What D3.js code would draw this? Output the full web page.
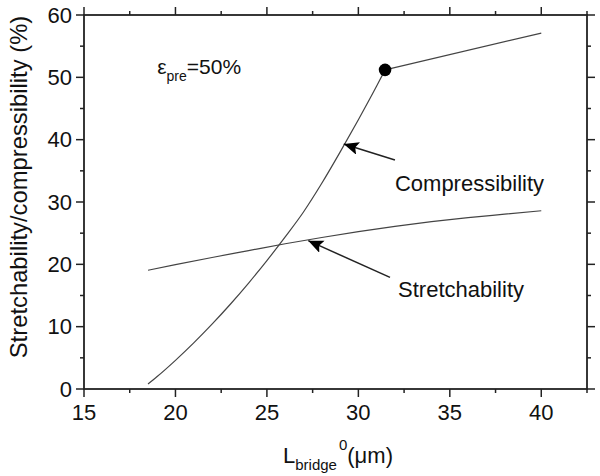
<!DOCTYPE html>
<html>
<head>
<meta charset="utf-8">
<script src="https://cdn.jsdelivr.net/npm/d3@7"></script>
<style>
  body { margin: 0; background: #fff; }
  svg { display: block; }
  text { font-family: "Liberation Sans", Arial, sans-serif; fill: #111; }
</style>
</head>
<body>
<svg id="chart" width="600" height="476"></svg>
<script>
// ---- data ----
const xMajorTicks = [15, 20, 25, 30, 35, 40];
const xMinorTicks = [17.5, 22.5, 27.5, 32.5, 37.5, 42.5];
const yMajorTicks = [0, 10, 20, 30, 40, 50, 60];
const yMinorTicks = [5, 15, 25, 35, 45, 55];

const stretchX = [18.5, 20, 22, 24, 26, 28, 30, 32, 34, 36, 38, 40];
const stretchY = [19.05, 19.95, 21.1, 22.2, 23.3, 24.3, 25.25, 26.1, 26.85, 27.5, 28.05, 28.6];

const compressX = [18.5, 19, 20, 21, 22, 23, 24, 25, 26, 27, 28, 29, 30, 31, 31.46];
const compressY = [0.8, 2.0, 4.6, 7.4, 10.4, 13.6, 17.0, 20.6, 24.4, 28.4, 33.0, 38.0, 43.2, 48.6, 51.2];

const plateauX = [31.46, 40];
const plateauY = [51.2, 57.1];

const kneePoint = { x: 31.46, y: 51.2 };

const arrowsData = [
  { label: "Compressibility", from: [32.0, 36.74], to: [29.2, 39.3], textAt: [32.0, 31.77] },
  { label: "Stretchability", from: [31.73, 17.9], to: [27.26, 23.8], textAt: [32.17, 14.76] }
];

// ---- layout ----
const svg = d3.select("#chart");
const mL = 84, mR = 587, mT = 15, mB = 389;
const x = d3.scaleLinear().domain([15, 42.5]).range([mL, mR]);
const y = d3.scaleLinear().domain([0, 60]).range([mB, mT]);

const axisColor = "#222";
const fontSize = 22;

function drawTicks(g, ticks, orient, len) {
  ticks.forEach(t => {
    let x1, y1, x2, y2;
    if (orient === "bottom") { x1 = x2 = x(t); y1 = mB; y2 = mB + len; }
    if (orient === "top") { x1 = x2 = x(t); y1 = mT; y2 = mT - len; }
    if (orient === "left") { y1 = y2 = y(t); x1 = mL; x2 = mL - len; }
    if (orient === "right") { y1 = y2 = y(t); x1 = mR; x2 = mR + len; }
    g.append("line").attr("x1", x1).attr("y1", y1).attr("x2", x2).attr("y2", y2)
      .attr("stroke", axisColor).attr("stroke-width", 1.5);
  });
}

const axes = svg.append("g");
axes.append("rect").attr("x", mL).attr("y", mT)
  .attr("width", mR - mL).attr("height", mB - mT)
  .attr("fill", "none").attr("stroke", axisColor).attr("stroke-width", 1.8);

drawTicks(axes, xMajorTicks, "bottom", 8);
drawTicks(axes, xMinorTicks, "bottom", 4);
drawTicks(axes, xMajorTicks, "top", 8);
drawTicks(axes, xMinorTicks, "top", 4);
drawTicks(axes, yMajorTicks, "left", 8);
drawTicks(axes, yMinorTicks, "left", 4);
drawTicks(axes, yMajorTicks, "right", 8);
drawTicks(axes, yMinorTicks, "right", 4);

axes.selectAll(".xl").data(xMajorTicks).enter().append("text")
  .attr("x", d => x(d)).attr("y", 420)
  .attr("text-anchor", "middle").attr("font-size", fontSize).text(d => d);
axes.selectAll(".yl").data(yMajorTicks).enter().append("text")
  .attr("x", mL - 12).attr("y", d => y(d)).attr("dy", "0.35em")
  .attr("text-anchor", "end").attr("font-size", fontSize).text(d => d);

svg.append("text")
  .attr("transform", `translate(27,187) rotate(-90)`)
  .attr("text-anchor", "middle").attr("font-size", 23.8)
  .text("Stretchability/compressibility (%)");

const xt = svg.append("text").attr("x", 283).attr("y", 463).attr("font-size", fontSize);
xt.append("tspan").text("L");
xt.append("tspan").attr("font-size", 15).attr("dy", 7).text("bridge");
xt.append("tspan").attr("font-size", 15).attr("dy", -20).attr("dx", 2).text("0");
xt.append("tspan").attr("dy", 13).text("(\u03BCm)");

const curveStroke = "#444";
const smooth = d3.line().x(d => x(d[0])).y(d => y(d[1])).curve(d3.curveMonotoneX);
const straight = d3.line().x(d => x(d[0])).y(d => y(d[1]));

svg.append("path")
  .datum(stretchX.map((v, i) => [v, stretchY[i]]))
  .attr("d", smooth)
  .attr("fill", "none").attr("stroke", curveStroke).attr("stroke-width", 1.2);

svg.append("path")
  .datum(compressX.map((v, i) => [v, compressY[i]]))
  .attr("d", smooth)
  .attr("fill", "none").attr("stroke", curveStroke).attr("stroke-width", 1.2);

svg.append("path")
  .datum(plateauX.map((v, i) => [v, plateauY[i]]))
  .attr("d", straight)
  .attr("fill", "none").attr("stroke", curveStroke).attr("stroke-width", 1.2);

svg.append("circle")
  .attr("cx", x(kneePoint.x)).attr("cy", y(kneePoint.y)).attr("r", 6.3)
  .attr("fill", "#000");

svg.append("defs").append("marker")
  .attr("id", "ah").attr("markerUnits", "userSpaceOnUse")
  .attr("markerWidth", 18).attr("markerHeight", 14)
  .attr("refX", 15).attr("refY", 6.5).attr("orient", "auto")
  .append("path").attr("d", "M0,0 L15,6.5 L0,13 L3,6.5 Z").attr("fill", "#000");

arrowsData.forEach(a => {
  svg.append("line")
    .attr("x1", x(a.from[0])).attr("y1", y(a.from[1]))
    .attr("x2", x(a.to[0])).attr("y2", y(a.to[1]))
    .attr("stroke", "#222").attr("stroke-width", 1.5)
    .attr("marker-end", "url(#ah)");
  svg.append("text")
    .attr("x", x(a.textAt[0])).attr("y", y(a.textAt[1]))
    .attr("font-size", fontSize).text(a.label);
});

const eps = svg.append("text").attr("x", x(19.0)).attr("y", y(50.5)).attr("font-size", 21);
eps.append("tspan").text("\u03B5");
eps.append("tspan").attr("font-size", 14).attr("dy", 7).text("pre");
eps.append("tspan").attr("dy", -7).text("=50%");
</script>
</body>
</html>
